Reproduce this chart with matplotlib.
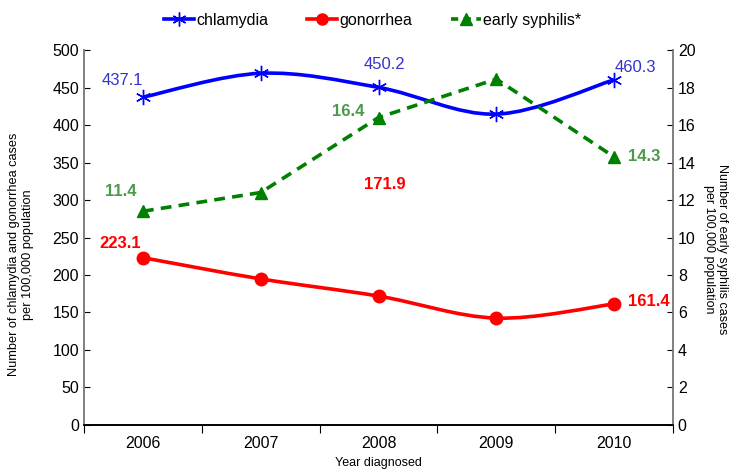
import matplotlib
matplotlib.use("Agg")
import matplotlib.pyplot as plt
from matplotlib.path import Path
from matplotlib.patches import PathPatch
from matplotlib.lines import Line2D

plt.rcParams['font.family'] = ['Liberation Sans', 'DejaVu Sans']

years = ['2006', '2007', '2008', '2009', '2010']
chlamydia = [437.1, 469.0, 450.2, 414.5, 460.3]
gonorrhea = [223.1, 194.8, 171.9, 142.5, 161.4]
syphilis = [11.4, 12.4, 16.4, 18.45, 14.3]

chl_labels = {0: '437.1', 2: '450.2', 4: '460.3'}
gon_labels = {0: '223.1', 2: '171.9', 4: '161.4'}
syp_labels = {0: '11.4', 2: '16.4', 4: '14.3'}

BLUE = '#0000FF'
RED = '#FF0000'
GREEN = '#008000'
BLUE_T = '#3333CC'
GREEN_T = '#4A9A4A'

def smooth_path(xs, ys):
    pts = list(zip(xs, ys))
    n = len(pts)
    verts = [pts[0]]
    codes = [Path.MOVETO]
    for i in range(n - 1):
        p0 = pts[i - 1] if i > 0 else pts[i]
        p1 = pts[i]
        p2 = pts[i + 1]
        p3 = pts[i + 2] if i + 2 < n else pts[i + 1]
        c1 = (p1[0] + (p2[0] - p0[0]) / 6, p1[1] + (p2[1] - p0[1]) / 6)
        c2 = (p2[0] - (p3[0] - p1[0]) / 6, p2[1] - (p3[1] - p1[1]) / 6)
        verts += [c1, c2, p2]
        codes += [Path.CURVE4] * 3
    return Path(verts, codes)

fig = plt.figure(figsize=(7.32, 4.71), dpi=100)
ax = fig.add_axes([0.1148, 0.0977, 0.8046, 0.7961])
ax2 = ax.twinx()

x = list(range(len(years)))

ax.add_patch(PathPatch(smooth_path(x, chlamydia), fill=False, edgecolor=BLUE, lw=2.6, zorder=3))
ax.add_patch(PathPatch(smooth_path(x, gonorrhea), fill=False, edgecolor=RED, lw=2.6, zorder=3))
ax.plot(x, chlamydia, linestyle='none', marker=(6, 2, 0), ms=11, mec=BLUE, mew=1.0, zorder=4)
ax.plot(x, gonorrhea, linestyle='none', marker='o', ms=9, mfc=RED, mec=RED, zorder=4)
ax2.plot(x, syphilis, color=GREEN, lw=2.6, linestyle=(0, (3, 2)), marker='^', ms=9,
         mfc=GREEN, mec=GREEN, zorder=4)

ax.set_xlim(-0.5, 4.5)
ax.set_ylim(0, 500)
ax2.set_ylim(0, 20)
ax.set_yticks(range(0, 501, 50))
ax2.set_yticks(range(0, 21, 2))

ax.set_xticks([i - 0.5 for i in range(len(years) + 1)])
ax.set_xticklabels([])
ax.set_xticks(x, minor=True)
ax.set_xticklabels(years, minor=True, fontsize=11.5)
ax.tick_params(axis='x', which='major', direction='out', length=6, color='black')
ax.tick_params(axis='x', which='minor', length=0, pad=8)
ax.tick_params(axis='y', direction='in', length=4, labelsize=11.5, color='black')
ax2.tick_params(axis='y', direction='in', length=4, labelsize=11.5, color='black')

for a in (ax, ax2):
    a.spines['top'].set_visible(False)
    a.spines['left'].set_color('#7F7F7F')
    a.spines['right'].set_color('#7F7F7F')
    a.spines['bottom'].set_color('black')
    a.spines['left'].set_linewidth(1.2)
    a.spines['right'].set_linewidth(1.2)
    a.spines['bottom'].set_linewidth(1.2)

ax.set_ylabel('Number of chlamydia and gonorrhea cases\nper 100,000 population', fontsize=9.2)
ax.yaxis.set_label_coords(-0.107, 0.455)
ax.yaxis.label.set_va('center')
ax2.set_ylabel('Number of early syphilis cases\nper 100,000 population', fontsize=9,
               rotation=-90)
ax2.yaxis.set_label_coords(1.072, 0.47)
ax2.yaxis.label.set_va('center')
ax.set_xlabel('Year diagnosed', fontsize=9, labelpad=4)

# data labels (offsets in pixels)
chl_off = {0: (-21, 17, 'center'), 2: (6, 23, 'center'), 4: (21, 12, 'center')}
for i, t in chl_labels.items():
    dx, dy, ha = chl_off[i]
    ax.annotate(t, (x[i], chlamydia[i]), xytext=(dx, dy), textcoords='offset pixels',
                ha=ha, va='center', color=BLUE_T, fontsize=12, zorder=5)
gon_off = {0: (-23, 14, 'center'), 2: (6, 112, 'center'), 4: (14, 2, 'left')}
for i, t in gon_labels.items():
    dx, dy, ha = gon_off[i]
    ax.annotate(t, (x[i], gonorrhea[i]), xytext=(dx, dy), textcoords='offset pixels',
                ha=ha, va='center', color=RED, fontsize=12, fontweight='bold', zorder=5)
syp_off = {0: (-22, 20, 'center'), 2: (-30, 6, 'center'), 4: (14, 0, 'left')}
for i, t in syp_labels.items():
    dx, dy, ha = syp_off[i]
    ax2.annotate(t, (x[i], syphilis[i]), xytext=(dx, dy), textcoords='offset pixels',
                 ha=ha, va='center', color=GREEN_T, fontsize=12, fontweight='bold', zorder=5)

handles = [
    Line2D([], [], color=BLUE, lw=2.6, marker=(6, 2, 0), ms=10, mec=BLUE, mew=1.0),
    Line2D([], [], color=RED, lw=2.6, marker='o', ms=8, mfc=RED, mec=RED),
    Line2D([], [], color=GREEN, lw=2.6, linestyle=(0, (2, 1.5)), marker='^', ms=8, mfc=GREEN, mec=GREEN),
]
fig.legend(handles, ['chlamydia', 'gonorrhea', 'early syphilis*'], loc='center',
           bbox_to_anchor=(0.509, 1 - 20 / 471), ncol=3, frameon=False, fontsize=11.5,
           handlelength=1.9, columnspacing=2.4, handletextpad=0.15, borderpad=0.1)

fig.savefig('out.png', dpi=100)
